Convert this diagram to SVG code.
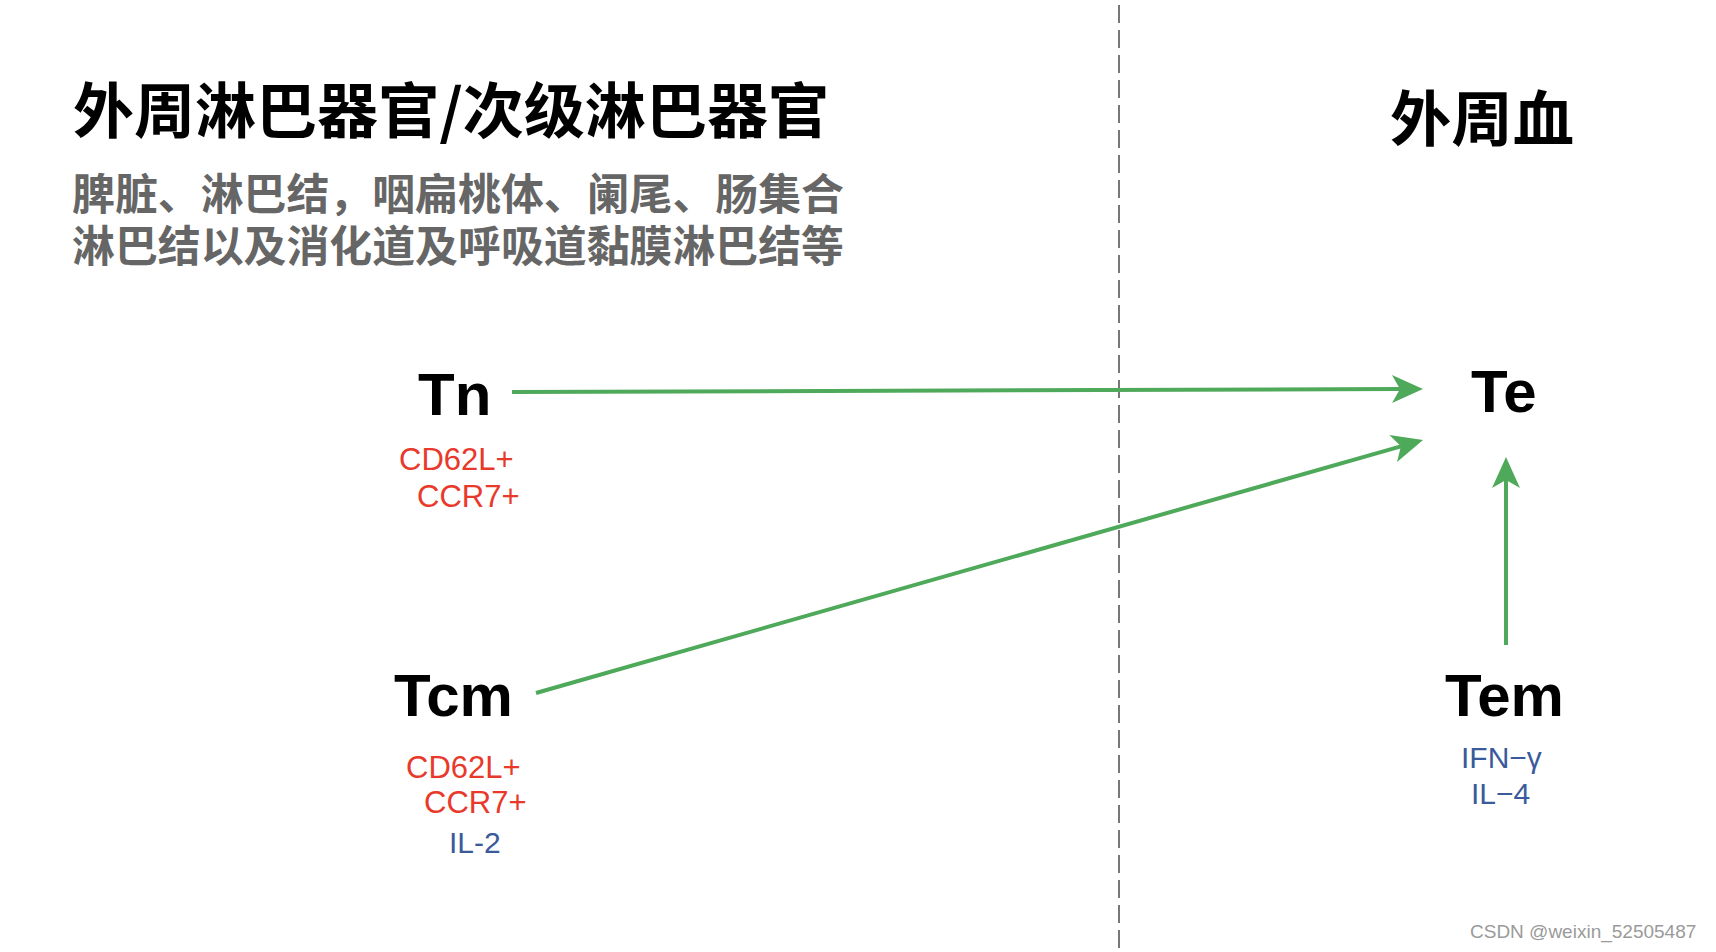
<svg xmlns="http://www.w3.org/2000/svg" width="1716" height="952" viewBox="0 0 1716 952">
  <style>
    .cjk { font-family: "Noto Sans CJK SC", sans-serif; font-weight: 700; }
    .title { font-size: 60px; fill: #000; }
    .sub { font-size: 43px; fill: #666; }
    .node { font-family: "Liberation Sans", Arial, sans-serif; font-weight: 700; font-size: 60px; fill: #000; }
    .red { font-family: "Liberation Sans", Arial, sans-serif; font-size: 31px; fill: #e8392b; }
    .blue { font-family: "Liberation Sans", Arial, sans-serif; font-size: 30px; fill: #3b5a9c; }
    .arrow { stroke: #4fa95a; stroke-width: 4; fill: none; marker-end: url(#ah); }
    .divider { stroke: #777; stroke-width: 2; stroke-dasharray: 18 7; fill: none; }
    .wm { font-family: "Liberation Sans", Arial, sans-serif; font-size: 19px; fill: #9a9a9a; }
  </style>
  <defs>
    <marker id="ah" markerUnits="userSpaceOnUse" markerWidth="32" markerHeight="30" refX="8" refY="14" orient="auto" viewBox="0 0 32 28" overflow="visible">
      <path d="M0,0 L31,14 L0,28 L8,14 Z" fill="#4fa95a"/>
    </marker>
  </defs>
  <rect width="1716" height="952" fill="#fff"/>

  <line class="divider" x1="1119" y1="5" x2="1119" y2="952"/>

  <g id="heading-left">
    <text class="cjk title" x="73" y="133" textLength="756" lengthAdjust="spacingAndGlyphs">外周淋巴器官/次级淋巴器官</text>
    <text class="cjk sub" x="72" y="210" textLength="772" lengthAdjust="spacingAndGlyphs">脾脏、淋巴结，咽扁桃体、阑尾、肠集合</text>
    <text class="cjk sub" x="72" y="262" textLength="772" lengthAdjust="spacingAndGlyphs">淋巴结以及消化道及呼吸道黏膜淋巴结等</text>
  </g>

  <g id="heading-right">
    <text class="cjk title" x="1390" y="141" textLength="184" lengthAdjust="spacingAndGlyphs">外周血</text>
  </g>

  <g id="connectors">
    <line class="arrow" x1="512" y1="392" x2="1400" y2="389"/>
    <line class="arrow" x1="536" y1="693" x2="1400.9" y2="446.3"/>
    <line class="arrow" x1="1506" y1="645" x2="1506" y2="480"/>
  </g>

  <g id="node-tn">
    <text class="node" x="418" y="415">Tn</text>
    <text class="red" x="399" y="470">CD62L+</text>
    <text class="red" x="417" y="507">CCR7+</text>
  </g>

  <g id="node-tcm">
    <text class="node" x="394" y="716">Tcm</text>
    <text class="red" x="406" y="778">CD62L+</text>
    <text class="red" x="424" y="813">CCR7+</text>
    <text class="blue" x="449" y="853">IL-2</text>
  </g>

  <g id="node-te">
    <text class="node" x="1471" y="412">Te</text>
  </g>

  <g id="node-tem">
    <text class="node" x="1445" y="716">Tem</text>
    <text class="blue" x="1461" y="768">IFN−γ</text>
    <text class="blue" x="1471" y="804">IL−4</text>
  </g>

  <text class="wm" x="1470" y="938">CSDN @weixin_52505487</text>
</svg>
